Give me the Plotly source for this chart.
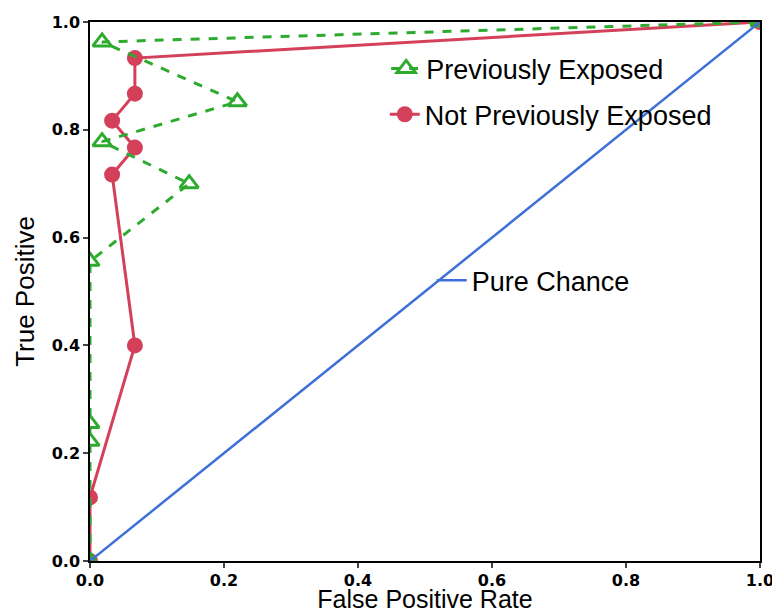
import plotly.graph_objects as go

# Data
prev_fpr = [0.0, 0.0, 0.0, 0.0, 0.148, 0.018, 0.22, 0.018, 1.0]
prev_tpr = [0.0, 0.222, 0.255, 0.556, 0.70, 0.778, 0.852, 0.963, 1.0]

notprev_fpr = [0.0, 0.0, 0.067, 0.033, 0.067, 0.033, 0.067, 0.067, 1.0]
notprev_tpr = [0.0, 0.118, 0.40, 0.717, 0.767, 0.817, 0.867, 0.933, 1.0]

chance_fpr = [0.0, 1.0]
chance_tpr = [0.0, 1.0]

tick_vals = [0.0, 0.2, 0.4, 0.6, 0.8, 1.0]
tick_text = ["0.0", "0.2", "0.4", "0.6", "0.8", "1.0"]

RED = "#d4405a"
GREEN = "#2eaa2e"
BLUE = "#3f6fd9"
FONT = "Liberation Sans, Arial, sans-serif"
TICKFONT = "DejaVu Sans, sans-serif"

fig = go.Figure()

fig.add_trace(go.Scatter(
    x=notprev_fpr, y=notprev_tpr, mode="lines+markers",
    name="Not Previously Exposed",
    line=dict(color=RED, width=3),
    marker=dict(symbol="circle", size=16, color=RED),
    legend="legend2", showlegend=True,
))
fig.add_trace(go.Scatter(
    x=prev_fpr, y=prev_tpr, mode="lines+markers",
    name="Previously Exposed",
    line=dict(color=GREEN, width=3, dash="dash"),
    marker=dict(symbol="triangle-up-open", size=16, color=GREEN,
                line=dict(width=3, color=GREEN)),
    legend="legend", showlegend=True,
))
fig.add_trace(go.Scatter(
    x=chance_fpr, y=chance_tpr, mode="lines",
    name="Pure Chance",
    line=dict(color=BLUE, width=2.5),
    legend="legend3", showlegend=True,
))

leg_common = dict(bgcolor="rgba(0,0,0,0)", borderwidth=0,
                  font=dict(family=FONT, size=27, color="black"),
                  xanchor="left", yanchor="middle", itemsizing="trace")

fig.update_layout(
    width=772, height=613,
    margin=dict(l=90, r=12, t=22, b=52, autoexpand=False),
    showlegend=True,
    paper_bgcolor="white", plot_bgcolor="white",
    font=dict(family=FONT, color="black"),
    legend=dict(x=0.442, y=0.913, **leg_common),
    legend2=dict(x=0.440, y=0.828, **leg_common),
    legend3=dict(x=0.510, y=0.520, **leg_common),
    xaxis=dict(
        range=[0, 1], tickvals=tick_vals, ticktext=tick_text,
        showgrid=False, zeroline=False, automargin=False,
        showline=True, linecolor="black", linewidth=1.5, mirror=True,
        ticks="outside", ticklen=5, tickcolor="#444", tickwidth=1.5,
        ticklabeloverflow="allow", ticklabelstandoff=-1,
        tickfont=dict(family=TICKFONT, size=16, color="black", weight="bold"),
        title=dict(text="False Positive Rate", standoff=2,
                   font=dict(family=FONT, size=25, color="black")),
    ),
    yaxis=dict(
        range=[0, 1], tickvals=tick_vals, ticktext=tick_text,
        showgrid=False, zeroline=False, automargin=False,
        showline=True, linecolor="black", linewidth=1.5, mirror=True,
        ticks="outside", ticklen=5, tickcolor="#444", tickwidth=1.5,
        ticklabeloverflow="allow",
        tickfont=dict(family=TICKFONT, size=16, color="black", weight="bold"),
        title=dict(text="True Positive", standoff=10,
                   font=dict(family=FONT, size=26, color="black")),
    ),
)

fig.write_html("out.html")
